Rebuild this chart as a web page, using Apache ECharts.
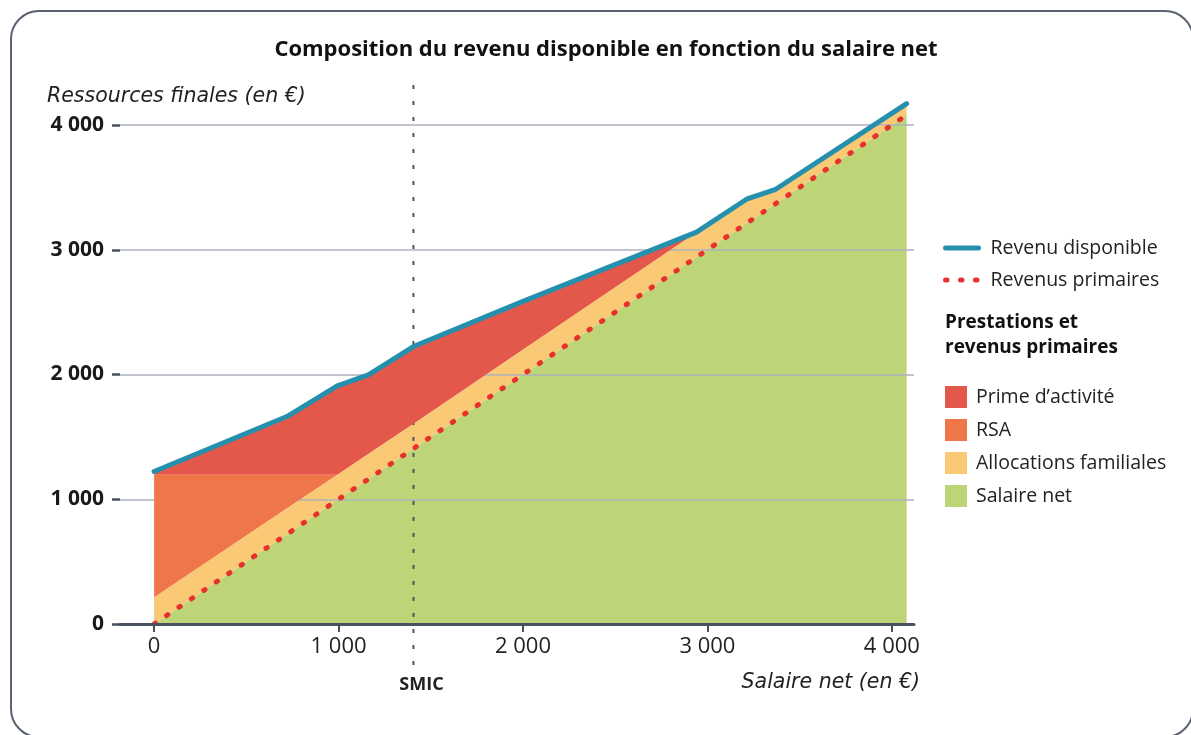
<!DOCTYPE html>
<html>
<head>
<meta charset="utf-8">
<script src="https://cdn.jsdelivr.net/npm/echarts@6/dist/echarts.min.js"></script>
<style>
  html, body { margin: 0; padding: 0; background: #fff; }
  #chart { width: 1191px; height: 735px; }
</style>
</head>
<body>
<div id="chart"></div>
<script>
// salaire net (x) break points, in €
const salaire = [0, 720, 993, 1162, 1406, 1990, 2941, 3212, 3366, 4080];
// components stacked on top of the salary at each break point
const allocations = [215, 207, 203, 202, 200, 200, 200, 193, 115, 92];
const rsa = [981, 269, 0, 0, 0, 0, 0, 0, 0, 0];
const prime = [26, 467, 713, 633, 618, 390, 0, 0, 0, 0];
// revenu disponible (total line)
const revenuDispo = [1222, 1663, 1909, 1997, 2224, 2580, 3141, 3405, 3481, 4172];
const smic = 1406;
const xTicks = [0, 1000, 2000, 3000, 4000];

const FONT = "'Open Sans', 'Noto Sans', sans-serif";
const IFONT = "'DejaVu Sans', sans-serif";
const fmt = v => String(v).replace(/\B(?=(\d{3})+(?!\d))/g, ' ');
const pairs = ys => salaire.map((x, i) => [x, ys[i]]);
// value first so the stack runs on y (both axes are value axes)
const stackPairs = ys => salaire.map((x, i) => [ys[i], x]);

function area(name, ys, color, z) {
  return {
    name,
    type: 'line',
    stack: 'total',
    data: stackPairs(ys),
    encode: { x: 1, y: 0 },
    symbol: 'none',
    clip: false,
    itemStyle: { color },
    lineStyle: { width: 0 },
    areaStyle: { color, opacity: 1 },
    z
  };
}

const chart = echarts.init(document.getElementById('chart'));

const option = {
  animation: false,
  grid: { left: 120, right: 277, top: 125, bottom: 111 },
  xAxis: {
    type: 'value',
    min: -185,
    max: 4120,
    z: 6,
    axisLine: { lineStyle: { color: '#4a5160', width: 3 } },
    axisTick: { show: true, customValues: xTicks, length: 8, lineStyle: { color: '#4a5160', width: 2 } },
    axisLabel: { customValues: xTicks, formatter: fmt, fontFamily: FONT, fontSize: 22, color: '#222', margin: 12 },
    splitLine: { show: false }
  },
  yAxis: {
    type: 'value',
    min: 0,
    max: 4000,
    interval: 1000,
    z: 2,
    axisLine: { show: false, onZero: false },
    axisTick: { show: true, length: 8, lineStyle: { color: '#4a5160', width: 2.5 } },
    axisLabel: { formatter: fmt, fontFamily: FONT, fontSize: 21, fontWeight: 'bold', color: '#1a1a1a', margin: 16 },
    splitLine: { lineStyle: { color: '#aeb2bd', width: 1.5 } }
  },
  legend: [
    {
      data: ['Revenu disponible', 'Revenus primaires'],
      orient: 'vertical',
      left: 938,
      top: 233,
      itemWidth: 33,
      itemHeight: 14,
      itemGap: 12,
      lineStyle: { width: 5 },
      itemStyle: { color: 'rgba(0,0,0,0)', borderWidth: 0 },
      textStyle: { fontFamily: FONT, fontSize: 19.5, color: '#222', lineHeight: 20, padding: [0, 0, 0, 7] },
      selectedMode: false
    },
    {
      data: ['Prime d’activité', 'RSA', 'Allocations familiales', 'Salaire net'],
      orient: 'vertical',
      left: 940,
      top: 381,
      icon: 'rect',
      itemWidth: 22,
      itemHeight: 22,
      itemGap: 11,
      itemStyle: { borderWidth: 0 },
      textStyle: { fontFamily: FONT, fontSize: 19.5, color: '#222', lineHeight: 20, padding: [0, 0, 0, 4] },
      selectedMode: false
    }
  ],
  series: [
    area('Salaire net', salaire, '#bdd577', 1),
    area('Allocations familiales', allocations, '#f9c975', 1),
    area('RSA', rsa, '#ee7649', 3),
    area('Prime d’activité', prime, '#e4574b', 3),
    {
      name: 'Revenus primaires',
      type: 'line',
      data: pairs(salaire),
      symbol: 'none',
      clip: false,
      itemStyle: { color: '#e8302c' },
      lineStyle: { color: '#e8302c', width: 5, type: [1.5, 13.5], cap: 'round' },
      z: 4
    },
    {
      name: 'Revenu disponible',
      type: 'line',
      data: pairs(revenuDispo),
      symbol: 'none',
      clip: false,
      itemStyle: { color: '#2590ad' },
      lineStyle: { color: '#2590ad', width: 5, join: 'round', cap: 'round' },
      z: 5
    }
  ]
};

chart.setOption(option);

// decorations placed from the axis scale
const smicX = chart.convertToPixel({ xAxisIndex: 0 }, smic);
chart.setOption({
  graphic: [
    {
      type: 'rect', id: 'frame', silent: true,
      shape: { x: 11, y: 11, width: 1182, height: 726, r: 28 },
      style: { fill: 'none', stroke: '#5a6170', lineWidth: 2 }
    },
    {
      type: 'text', id: 'title',
      style: {
        text: 'Composition du revenu disponible en fonction du salaire net',
        x: 606, y: 50, align: 'center', verticalAlign: 'middle',
        font: "bold 22px " + FONT, fill: '#111'
      }
    },
    {
      type: 'text', id: 'yname',
      style: {
        text: 'Ressources finales (en €)', x: 47, y: 97, verticalAlign: 'middle',
        font: "italic 20.5px " + IFONT, fill: '#222'
      }
    },
    {
      type: 'text', id: 'xname',
      style: {
        text: 'Salaire net (en €)', x: 920, y: 683, align: 'right', verticalAlign: 'middle',
        font: "italic 20.5px " + IFONT, fill: '#222'
      }
    },
    {
      type: 'line', id: 'smicLine', silent: true, z: 2,
      shape: { x1: smicX, y1: 85, x2: smicX, y2: 672 },
      style: { stroke: '#4d5563', lineWidth: 2, lineDash: [4, 12] }
    },
    {
      type: 'text', id: 'smicLabel',
      style: {
        text: 'SMIC', x: smicX + 8, y: 685, align: 'center', verticalAlign: 'middle',
        font: "bold 18px " + FONT, fill: '#222'
      }
    },
    {
      type: 'text', id: 'legendHead',
      style: {
        text: 'Prestations et\nrevenus primaires', x: 945, y: 310, lineHeight: 25,
        font: "bold 19px " + FONT, fill: '#111'
      }
    }
  ]
});
</script>
</body>
</html>
